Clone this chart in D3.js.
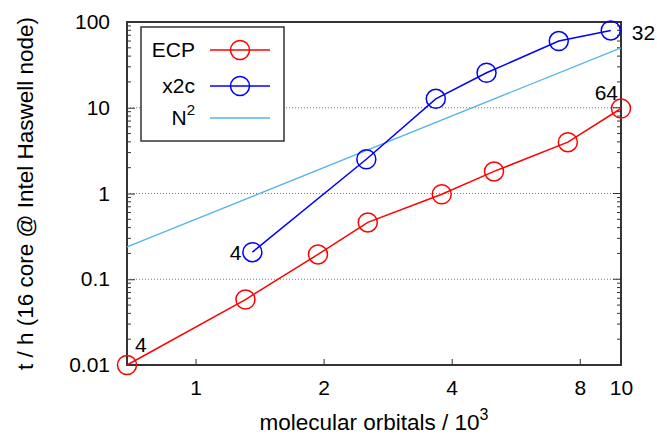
<!DOCTYPE html>
<html>
<head>
<meta charset="utf-8">
<script src="https://cdn.jsdelivr.net/npm/d3@7"></script>
<style>
  body { margin: 0; background: #fff; }
  svg { font-family: "Liberation Sans", Arial, sans-serif; }
</style>
</head>
<body>
<div id="chart-container"></div>
<script>
// molecular orbitals / 10^3 and time in hours
const ecpX = [0.69, 1.31, 1.94, 2.54, 3.79, 5.03, 7.5, 10.0];
const ecpY = [0.01, 0.058, 0.195, 0.46, 0.98, 1.81, 3.97, 9.8];
const x2cX = [1.36, 2.52, 3.67, 4.83, 7.14, 9.46];
const x2cY = [0.207, 2.51, 12.7, 25.6, 59.9, 79.8];
const n2X = [0.69, 10];
const n2Y = [0.238, 50];

const xTicks = [1, 2, 4, 8, 10];
const yTicks = [0.01, 0.1, 1, 10, 100];
const yTickLabels = ["0.01", "0.1", "1", "10", "100"];
const gridValues = [0.1, 1, 10];

const W = 657, H = 437;
const margin = { left: 127, right: 621, top: 22, bottom: 365 };
const fs = 21;

const svg = d3.select("#chart-container")
    .append("svg")
    .attr("width", W)
    .attr("height", H);

const x = d3.scaleLog().domain([0.69, 10]).range([margin.left, margin.right]);
const y = d3.scaleLog().domain([0.01, 100]).range([margin.bottom, margin.top]);

// grid
svg.selectAll(".grid")
    .data(gridValues)
    .enter().append("line")
    .attr("x1", margin.left).attr("x2", margin.right)
    .attr("y1", d => y(d)).attr("y2", d => y(d))
    .attr("stroke", "#777")
    .attr("stroke-width", 1)
    .attr("stroke-dasharray", "1,2");

// minor y ticks, both sides
const minor = [];
for (let e = -2; e < 2; e++) {
    for (let m = 2; m <= 9; m++) minor.push(m * Math.pow(10, e));
}
svg.selectAll(".minorL")
    .data(minor)
    .enter().append("line")
    .attr("x1", margin.left).attr("x2", margin.left + 4)
    .attr("y1", d => y(d)).attr("y2", d => y(d))
    .attr("stroke", "#333");
svg.selectAll(".minorR")
    .data(minor)
    .enter().append("line")
    .attr("x1", margin.right).attr("x2", margin.right - 4)
    .attr("y1", d => y(d)).attr("y2", d => y(d))
    .attr("stroke", "#333");
svg.selectAll(".majorR")
    .data(yTicks)
    .enter().append("line")
    .attr("x1", margin.right).attr("x2", margin.right - 8)
    .attr("y1", d => y(d)).attr("y2", d => y(d))
    .attr("stroke", "#333");

// axes
const xAxis = svg.append("g")
    .attr("transform", `translate(0,${margin.bottom})`)
    .call(d3.axisBottom(x).tickValues(xTicks).tickFormat(d3.format("d"))
        .tickSizeInner(-6).tickSizeOuter(0).tickPadding(15));

const yAxis = svg.append("g")
    .attr("transform", `translate(${margin.left},0)`)
    .call(d3.axisLeft(y).tickValues(yTicks).tickFormat((d, i) => yTickLabels[i])
        .tickSizeInner(-8).tickSizeOuter(0).tickPadding(17));

[xAxis, yAxis].forEach(g => {
    g.select(".domain").remove();
    g.selectAll("line").attr("stroke", "#333");
    g.selectAll("text").attr("font-size", fs).attr("fill", "#000")
        .attr("font-family", "Liberation Sans, Arial, sans-serif");
});

// frame
svg.append("rect")
    .attr("x", margin.left).attr("y", margin.top)
    .attr("width", margin.right - margin.left).attr("height", margin.bottom - margin.top)
    .attr("fill", "none")
    .attr("stroke", "#333")
    .attr("stroke-width", 2);

const line = d3.line().x(d => x(d[0])).y(d => y(d[1]));

// N^2
svg.append("path")
    .datum(d3.zip(n2X, n2Y))
    .attr("d", line)
    .attr("fill", "none")
    .attr("stroke", "#56b4e9")
    .attr("stroke-width", 1.3);

function series(xs, ys, color) {
    const pts = d3.zip(xs, ys);
    svg.append("path")
        .datum(pts)
        .attr("d", line)
        .attr("fill", "none")
        .attr("stroke", color)
        .attr("stroke-width", 1.5);
    svg.selectAll(null)
        .data(pts)
        .enter().append("circle")
        .attr("cx", d => x(d[0]))
        .attr("cy", d => y(d[1]))
        .attr("r", 9.5)
        .attr("fill", "none")
        .attr("stroke", color)
        .attr("stroke-width", 1.5);
}
series(ecpX, ecpY, "#ff0000");
series(x2cX, x2cY, "#0000ff");

// point annotations
const annot = svg.append("g").attr("font-size", fs).attr("fill", "#000");
annot.append("text").attr("x", x(ecpX[0]) + 8).attr("y", y(ecpY[0]) - 13).text("4");
annot.append("text").attr("x", x(x2cX[0]) - 11).attr("y", y(x2cY[0]) + 8)
    .attr("text-anchor", "end").text("4");
annot.append("text").attr("x", x(x2cX[x2cX.length - 1]) + 21).attr("y", y(x2cY[x2cY.length - 1]) + 10).text("32");
annot.append("text").attr("x", x(ecpX[ecpX.length - 1]) - 3).attr("y", y(ecpY[ecpY.length - 1]) - 9)
    .attr("text-anchor", "end").text("64");

// legend
const lg = svg.append("g");
lg.append("rect")
    .attr("x", 141).attr("y", 27).attr("width", 143).attr("height", 114)
    .attr("fill", "#fff").attr("stroke", "#333").attr("stroke-width", 1.5);
const legendItems = [
    { name: "ECP", color: "#ff0000", marker: true, cy: 50 },
    { name: "x2c", color: "#0000ff", marker: true, cy: 86 },
    { name: "N", color: "#56b4e9", marker: false, cy: 118 }
];
legendItems.forEach(d => {
    const t = lg.append("text")
        .attr("x", 195).attr("y", d.cy + 7)
        .attr("text-anchor", "end")
        .attr("font-size", fs)
        .text(d.name);
    if (!d.marker) {
        t.text("");
        t.append("tspan").text("N");
        t.append("tspan").attr("font-size", 15).attr("dy", -10).text("2");
    }
    lg.append("line")
        .attr("x1", 210).attr("x2", 270)
        .attr("y1", d.cy).attr("y2", d.cy)
        .attr("stroke", d.color)
        .attr("stroke-width", d.marker ? 1.5 : 1.3);
    if (d.marker) {
        lg.append("circle")
            .attr("cx", 240).attr("cy", d.cy).attr("r", 9.5)
            .attr("fill", "none").attr("stroke", d.color).attr("stroke-width", 1.5);
    }
});

// axis titles
const xt = svg.append("text")
    .attr("x", (margin.left + margin.right) / 2).attr("y", 430)
    .attr("text-anchor", "middle")
    .attr("font-size", 22.5);
xt.append("tspan").text("molecular orbitals / 10");
xt.append("tspan").attr("font-size", 16).attr("dy", -10).text("3");

svg.append("text")
    .attr("transform", `translate(33,${(margin.top + margin.bottom) / 2}) rotate(-90)`)
    .attr("text-anchor", "middle")
    .attr("font-size", 22.5)
    .text("t / h (16 core @ Intel Haswell node)");
</script>
</body>
</html>
